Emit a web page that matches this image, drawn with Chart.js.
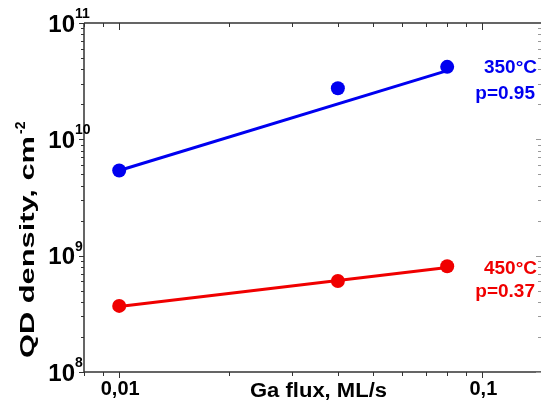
<!DOCTYPE html>
<html>
<head>
<meta charset="UTF-8">
<title>QD density vs Ga flux</title>
<script src="https://cdn.jsdelivr.net/npm/chart.js"></script>
<style>
  html, body { margin: 0; padding: 0; background: #fff; }
  #wrap { width: 548px; height: 401px; position: relative; }
</style>
</head>
<body>
<div id="wrap"><canvas id="chart"></canvas></div>
<script>
// datos
const gaFlux = [0.01, 0.04, 0.08];
const density350 = [5.4e9, 2.75e10, 4.2e10];
const density450 = [3.7e8, 6.05e8, 8.1e8];
// rectas de ajuste (extremos)
const fitFlux = [0.01, 0.08];
const fit350 = [5.4e9, 3.9e10];
const fit450 = [3.65e8, 7.9e8];
const labels350 = ['350°C', 'p=0.95'];
const labels450 = ['450°C', 'p=0.37'];
const xTicks = [0.01, 0.1];
const xTickLabels = ['0,01', '0,1'];
const yDecades = [8, 9, 10, 11];

const BLUE = '#0000f0';
const RED = '#f00000';
const AXIS = '#333';
const FONT = '"Liberation Sans", Arial, sans-serif';

function pts(xs, ys) {
    return xs.map((x, i) => ({ x: x, y: ys[i] }));
}

// texto con ancho forzado (la fuente original es algo mas ancha)
function textW(ctx, txt, x, y, w) {
    const m = ctx.measureText(txt).width;
    ctx.save();
    ctx.translate(x, y);
    ctx.scale(w / m, 1);
    ctx.fillText(txt, 0, 0);
    ctx.restore();
}

// plugin para ejes, ticks y textos
const axesPlugin = {
    id: 'axes',
    afterDraw(chart) {
        const ctx = chart.ctx;
        const a = chart.chartArea;
        const xs = chart.scales.x, ys = chart.scales.y;
        ctx.save();
        ctx.strokeStyle = AXIS;
        ctx.lineWidth = 1.5;
        ctx.beginPath();
        ctx.moveTo(a.left, a.top); ctx.lineTo(a.right, a.top);
        ctx.moveTo(a.left, a.top); ctx.lineTo(a.left, a.bottom);
        ctx.moveTo(a.left, a.bottom); ctx.lineTo(a.right, a.bottom);
        ctx.stroke();

        // ticks eje y (izquierda hacia fuera, derecha hacia dentro)
        ctx.lineWidth = 1;
        for (let d = yDecades[0]; d < yDecades[yDecades.length - 1]; d++) {
            for (let m = 1; m <= 9; m++) {
                const py = Math.round(ys.getPixelForValue(m * Math.pow(10, d))) + 0.5;
                const len = m === 1 ? 5 : 3;
                ctx.beginPath();
                ctx.moveTo(a.left - len, py); ctx.lineTo(a.left, py);
                ctx.stroke();
                ctx.strokeStyle = '#999';
                ctx.beginPath();
                ctx.moveTo(a.right, py); ctx.lineTo(a.right - len, py);
                ctx.stroke();
                ctx.strokeStyle = AXIS;
            }
        }
        const pTop = Math.round(ys.getPixelForValue(1e11)) + 0.5;
        ctx.beginPath(); ctx.moveTo(a.left - 5, pTop); ctx.lineTo(a.left, pTop); ctx.stroke();

        // ticks eje x
        const decs = [-3, -2, -1];
        for (const d of decs) {
            for (let m = 1; m <= 9; m++) {
                const v = m * Math.pow(10, d);
                if (v < xs.min || v > xs.max) continue;
                const px = Math.round(xs.getPixelForValue(v)) + 0.5;
                const major = m === 1;
                ctx.beginPath();
                ctx.moveTo(px, a.bottom); ctx.lineTo(px, a.bottom + (major ? 6 : 4));
                ctx.moveTo(px, a.top); ctx.lineTo(px, a.top + (major ? 7 : 4));
                ctx.stroke();
            }
        }

        // etiquetas eje x
        ctx.fillStyle = '#000';
        ctx.font = 'bold 20px ' + FONT;
        ctx.textAlign = 'center';
        ctx.textBaseline = 'alphabetic';
        xTicks.forEach((v, i) => {
            ctx.fillText(xTickLabels[i], xs.getPixelForValue(v) + 1, 395);
        });
        ctx.font = 'bold 20px ' + FONT;
        ctx.textAlign = 'left';
        textW(ctx, 'Ga flux, ML/s', 250, 397, 137);

        // etiquetas eje y con superindice
        yDecades.forEach(d => {
            const py = ys.getPixelForValue(Math.pow(10, d));
            ctx.font = 'bold 24px ' + FONT;
            ctx.textAlign = 'right';
            ctx.textBaseline = 'middle';
            ctx.fillText('10', 75, py + 2);
            ctx.font = 'bold 14px ' + FONT;
            ctx.textAlign = 'left';
            ctx.fillText(String(d), 75, py - 9);
        });

        // titulo eje y
        ctx.save();
        ctx.translate(34, 358);
        ctx.rotate(-Math.PI / 2);
        ctx.font = 'bold 21px ' + FONT;
        ctx.textAlign = 'left';
        ctx.textBaseline = 'alphabetic';
        textW(ctx, 'QD density, cm', 0, 0, 222);
        ctx.font = 'bold 14px ' + FONT;
        ctx.fillText('-2', 224, -9);
        ctx.restore();

        // anotaciones
        ctx.font = 'bold 19px ' + FONT;
        ctx.textAlign = 'right';
        ctx.textBaseline = 'middle';
        const yb = ys.getPixelForValue(density350[2]);
        ctx.fillStyle = BLUE;
        ctx.fillText(labels350[0], 537, yb + 1);
        ctx.fillText(labels350[1], 535, yb + 27);
        const yr = ys.getPixelForValue(density450[2]);
        ctx.fillStyle = RED;
        ctx.fillText(labels450[0], 537, yr + 2);
        ctx.fillText(labels450[1], 535, yr + 25);
        ctx.restore();
    }
};

new Chart(document.getElementById('chart'), {
    type: 'scatter',
    data: {
        datasets: [
            { type: 'line', data: pts(fitFlux, fit350), borderColor: BLUE, borderWidth: 3, pointRadius: 0, fill: false },
            { type: 'line', data: pts(fitFlux, fit450), borderColor: RED, borderWidth: 3, pointRadius: 0, fill: false },
            { data: pts(gaFlux, density350), backgroundColor: BLUE, borderColor: BLUE, pointRadius: 7, borderWidth: 0 },
            { data: pts(gaFlux, density450), backgroundColor: RED, borderColor: RED, pointRadius: 7, borderWidth: 0 }
        ]
    },
    options: {
        responsive: true,
        maintainAspectRatio: false,
        animation: false,
        layout: { padding: { left: 84, top: 23, right: 1, bottom: 29 } },
        scales: {
            x: { type: 'logarithmic', min: 0.008, max: 0.145, display: false },
            y: { type: 'logarithmic', min: 1e8, max: 1e11, display: false }
        },
        plugins: { legend: { display: false }, tooltip: { enabled: false } }
    },
    plugins: [axesPlugin]
});
</script>
</body>
</html>
